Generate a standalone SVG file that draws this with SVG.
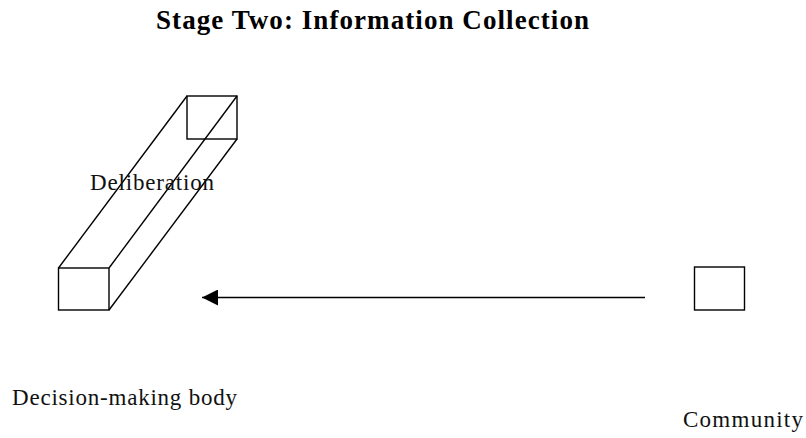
<svg xmlns="http://www.w3.org/2000/svg" width="806" height="438" viewBox="0 0 806 438">
  <style>
    .shape { fill: none; stroke: #000; stroke-width: 1.4; stroke-linejoin: miter; }
    .label { font-family: "Liberation Serif", "Times New Roman", serif; font-size: 23px; fill: #111; }
    .title { font-family: "Liberation Serif", "Times New Roman", serif; font-size: 27px; font-weight: bold; fill: #000; }
    .connector { fill: none; stroke: #000; stroke-width: 1.4; }
  </style>
  <defs>
    <marker id="arrowhead" markerUnits="userSpaceOnUse" markerWidth="16" markerHeight="16" viewBox="0 0 14 14" refX="14" refY="7" orient="auto">
      <path d="M0,0 L14,7 L0,14 Z" fill="#000"/>
    </marker>
  </defs>

  <rect width="806" height="438" fill="#fff"/>

  <g id="title">
    <text class="title" x="156" y="29" textLength="433" lengthAdjust="spacing">Stage Two: Information Collection</text>
  </g>

  <!-- Decision-making body: prism extending back towards the deliberation face -->
  <g id="decision-making-body">
    <rect class="shape" x="58.5" y="268" width="50.5" height="42"/>
    <rect class="shape" x="187" y="96" width="50" height="43"/>
    <line class="shape" x1="58.5" y1="268" x2="187" y2="96"/>
    <line class="shape" x1="109" y1="268" x2="237" y2="96"/>
    <line class="shape" x1="109" y1="310" x2="237" y2="139"/>
    <text class="label" x="12" y="405" textLength="225" lengthAdjust="spacing">Decision-making body</text>
  </g>

  <g id="deliberation">
    <text class="label" x="90" y="190" textLength="124" lengthAdjust="spacing">Deliberation</text>
  </g>

  <g id="community">
    <rect class="shape" x="694.5" y="267" width="50" height="43"/>
    <text class="label" x="683" y="427" textLength="120" lengthAdjust="spacing">Community</text>
  </g>

  <g id="connectors">
    <line class="connector" x1="645" y1="297.5" x2="202" y2="297.5" marker-end="url(#arrowhead)"/>
  </g>
</svg>
